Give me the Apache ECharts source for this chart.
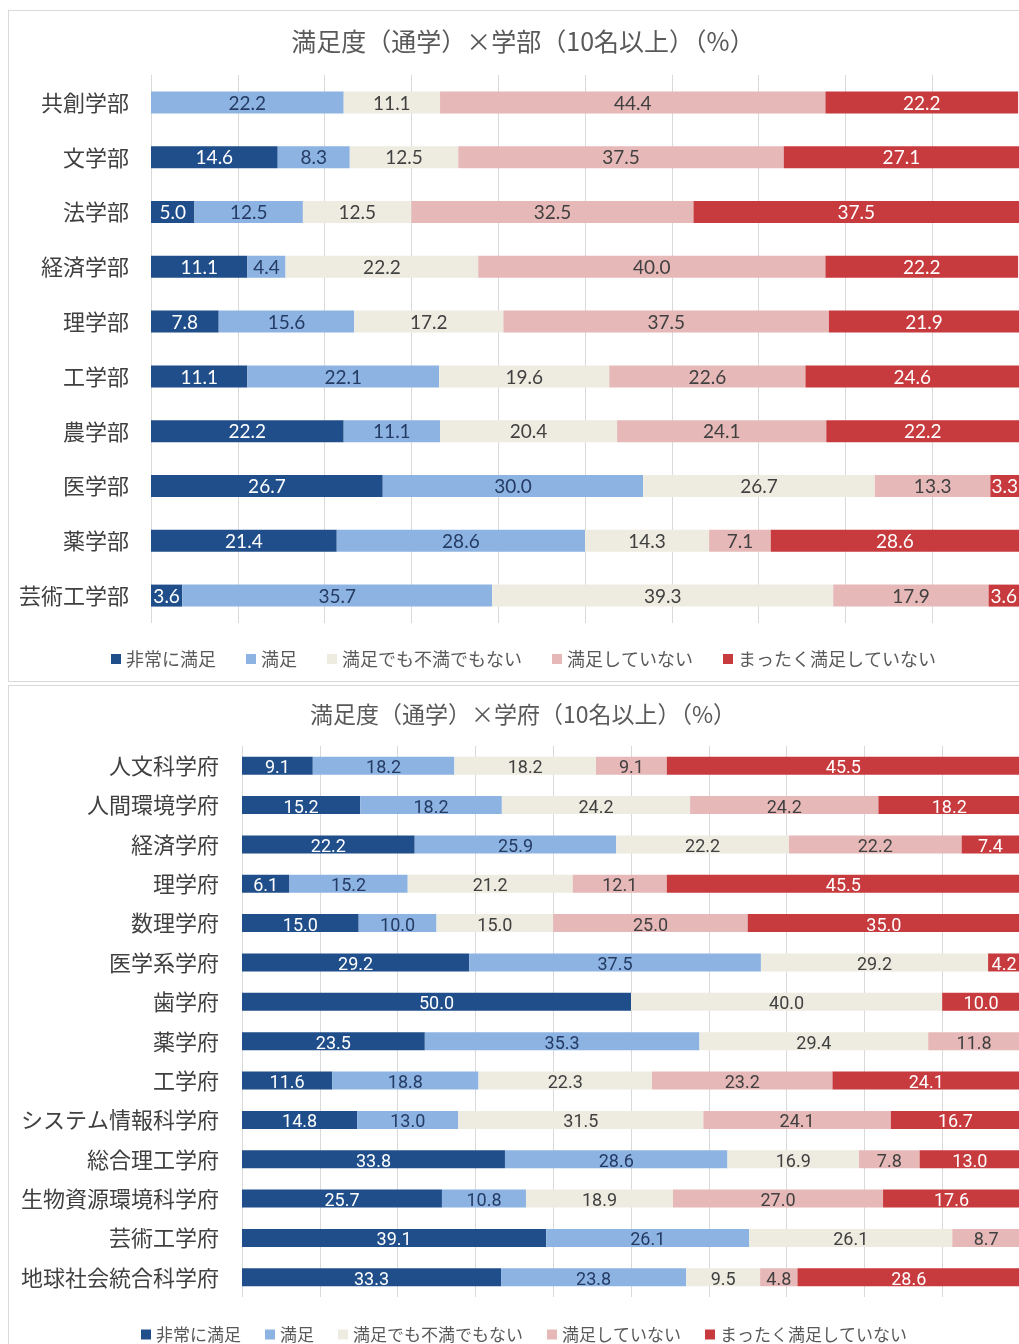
<!DOCTYPE html>
<html>
<head>
<meta charset="utf-8">
<script src="https://cdn.jsdelivr.net/npm/echarts@6/dist/echarts.min.js"></script>
<style>
  html, body { margin: 0; padding: 0; background: #fff; overflow: hidden; width: 1019px; height: 1344px; }
  .panel { position: absolute; left: 8px; width: 1030px; border: 1px solid #d9d9d9; box-sizing: border-box; background: #fff; }
  #top { top: 10px; height: 672px; }
  #bottom { top: 685px; height: 680px; }
</style>
</head>
<body>
<div id="top" class="panel"></div>
<div id="bottom" class="panel"></div>
<script>
// 凡例
const levels = ['非常に満足', '満足', '満足でも不満でもない', '満足していない', 'まったく満足していない'];
const colors = ['#1f4e8a', '#8db3e2', '#eeece1', '#e6b8b7', '#c73a3d'];
const labelColors = ['#ffffff', '#243b63', '#404040', '#404040', '#ffffff'];

// 学部
const bukCats = ['共創学部', '文学部', '法学部', '経済学部', '理学部', '工学部', '農学部', '医学部', '薬学部', '芸術工学部'];
const bukVery    = [0, 14.6, 5.0, 11.1, 7.8, 11.1, 22.2, 26.7, 21.4, 3.6];
const bukSat     = [22.2, 8.3, 12.5, 4.4, 15.6, 22.1, 11.1, 30.0, 28.6, 35.7];
const bukNeutral = [11.1, 12.5, 12.5, 22.2, 17.2, 19.6, 20.4, 26.7, 14.3, 39.3];
const bukUnsat   = [44.4, 37.5, 32.5, 40.0, 37.5, 22.6, 24.1, 13.3, 7.1, 17.9];
const bukNone    = [22.2, 27.1, 37.5, 22.2, 21.9, 24.6, 22.2, 3.3, 28.6, 3.6];

// 学府
const gakCats = ['人文科学府', '人間環境学府', '経済学府', '理学府', '数理学府', '医学系学府', '歯学府', '薬学府', '工学府', 'システム情報科学府', '総合理工学府', '生物資源環境科学府', '芸術工学府', '地球社会統合科学府'];
const gakVery    = [9.1, 15.2, 22.2, 6.1, 15.0, 29.2, 50.0, 23.5, 11.6, 14.8, 33.8, 25.7, 39.1, 33.3];
const gakSat     = [18.2, 18.2, 25.9, 15.2, 10.0, 37.5, 0, 35.3, 18.8, 13.0, 28.6, 10.8, 26.1, 23.8];
const gakNeutral = [18.2, 24.2, 22.2, 21.2, 15.0, 29.2, 40.0, 29.4, 22.3, 31.5, 16.9, 18.9, 26.1, 9.5];
const gakUnsat   = [9.1, 24.2, 22.2, 12.1, 25.0, 0, 0, 11.8, 23.2, 24.1, 7.8, 27.0, 8.7, 4.8];
const gakNone    = [45.5, 18.2, 7.4, 45.5, 35.0, 4.2, 10.0, 0, 24.1, 16.7, 13.0, 17.6, 0, 28.6];

const jp = '"Noto Sans CJK JP", sans-serif';

function makeOption(cfg) {
  return {
    animation: false,
    title: {
      text: cfg.title, left: 'center', top: cfg.titleTop,
      textStyle: { fontFamily: jp, fontSize: cfg.titleSize, fontWeight: 'normal', color: '#595959' }
    },
    legend: {
      data: levels, left: cfg.legendLeft, top: cfg.legendTop,
      icon: 'rect', itemWidth: 10, itemHeight: 10, itemGap: cfg.legendGap,
      textStyle: { fontFamily: jp, fontSize: cfg.legendSize, color: '#595959' }
    },
    grid: { left: cfg.left, right: cfg.right, top: cfg.top, bottom: cfg.bottom, containLabel: false },
    xAxis: {
      type: 'value', min: 0, max: 100, interval: 10,
      axisLabel: { show: false }, axisLine: { show: false }, axisTick: { show: false },
      splitLine: { show: true, lineStyle: { color: '#d9d9d9', width: 1 } }
    },
    yAxis: {
      type: 'category', data: cfg.cats, inverse: true,
      axisLine: { show: false }, axisTick: { show: false },
      axisLabel: { fontFamily: jp, fontSize: 22, color: '#404040', margin: cfg.labelMargin }
    },
    series: cfg.values.map((vals, i) => ({
      name: levels[i], type: 'bar', stack: 'total', barWidth: cfg.barWidth,
      data: vals,
      itemStyle: { color: colors[i] },
      label: {
        show: true, position: 'inside', color: labelColors[i],
        fontFamily: cfg.numFont, fontSize: cfg.numSize, offset: cfg.numOffset,
        formatter: p => (p.value > 0 ? p.value.toFixed(1) : '')
      }
    }))
  };
}

const topChart = echarts.init(document.getElementById('top'));
topChart.setOption(makeOption({
  title: '満足度（通学）×学部（10名以上）（%）', titleTop: 13, titleSize: 25,
  cats: bukCats, values: [bukVery, bukSat, bukNeutral, bukUnsat, bukNone],
  left: 142, right: 18, top: 64, bottom: 58, barWidth: 22, labelMargin: 22,
  legendLeft: 97, legendTop: 634, legendGap: 30, legendSize: 18,
  numFont: 'Lato, sans-serif', numSize: 19, numOffset: [0, 1]
}));

const bottomChart = echarts.init(document.getElementById('bottom'));
bottomChart.setOption(makeOption({
  title: '満足度（通学）×学府（10名以上）（%）', titleTop: 12, titleSize: 23,
  cats: gakCats, values: [gakVery, gakSat, gakNeutral, gakUnsat, gakNone],
  left: 233, right: 17, top: 60, bottom: 67, barWidth: 18, labelMargin: 23,
  legendLeft: 127, legendTop: 635, legendGap: 24, legendSize: 17,
  numFont: '"Liberation Sans Narrow", "Roboto", sans-serif', numSize: 18, numOffset: [0, 3]
}));
</script>
</body>
</html>
